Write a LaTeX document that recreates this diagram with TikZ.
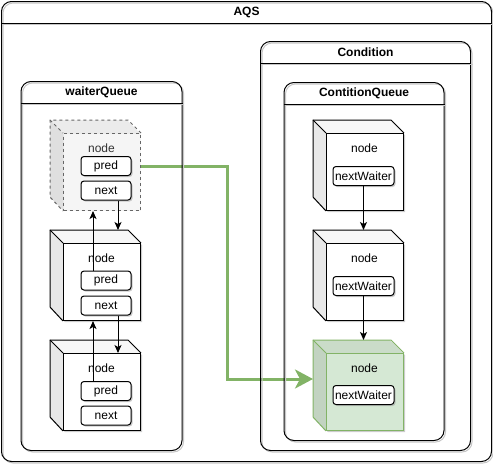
\documentclass[tikz,border=0pt]{standalone}
\usepackage{fontspec}
\setmainfont{Liberation Sans}
\usetikzlibrary{arrows.meta,shadows,backgrounds}
\definecolor{leafgreen}{HTML}{82B366}
\definecolor{nodegreen}{HTML}{D5E8D4}
\definecolor{ghostfill}{HTML}{F5F5F5}
\definecolor{ghostline}{HTML}{666666}
\definecolor{ghosttext}{HTML}{333333}
\tikzset{
  lane/.style={draw, rounded corners=10pt, inner sep=0,
    preaction={draw=black!22, fill=none, transform canvas={shift={(1.5pt,-1.5pt)}}}},
  lanerule/.style={preaction={draw=black!22, transform canvas={shift={(1.5pt,-1.5pt)}}}},
  lanetitle/.style={font=\fontsize{12}{14}\selectfont\bfseries, inner sep=0},
  field/.style={draw, fill=white, rounded corners=3pt, minimum width=50pt,
    minimum height=19pt, inner sep=0,
    drop shadow={shadow xshift=1.5pt, shadow yshift=-1.5pt, fill=black!40, opacity=.5}},
  castshadow/.style={drop shadow={shadow xshift=2pt, shadow yshift=-2pt, fill=black!40, opacity=.5}},
  solidcube/.style={draw=black},
  ghostcube/.style={draw=ghostline, dashed},
  greencube/.style={draw=leafgreen},
  link/.style={-{Stealth[length=8pt,width=7pt,inset=2pt]}},
  jump/.style={-{Stealth[length=18pt,width=19pt,inset=5pt]}, draw=leafgreen, line width=3pt},
}
% [shadow]{name}{x}{y}{front}{top}{left}{line}
\newcommand\cube[8][]{%
  \coordinate (#2-back) at (#3,#4);
  \fill[#6, #1] (#2-back) -- ++(77,0) -- ++(13,13) -- ++(0,77) -- ++(-77,0) -- ++(-13,-13) -- cycle;
  \fill[#7] (#2-back) -- ++(13,13) -- ++(0,77) -- ++(-13,-13) -- cycle;
  \node[#8, fill=#5, minimum width=77pt, minimum height=77pt, inner sep=0, anchor=north west]
    (#2) at ([shift={(13,13)}]#2-back) {};
  \draw[#8] (#2.north east) -- ++(-13,-13) -- (#2-back) -- ++(0,77) -- (#2.south west);
  \draw[#8] (#2-back) -- (#2.north west);
}
\begin{document}
\begin{tikzpicture}[x=1pt, y=-1pt, line width=1pt, font=\fontsize{12}{14}\selectfont]
\useasboundingbox (0,0) rectangle (493,464);

% containers
\node[lane, minimum width=490pt, minimum height=460pt, anchor=north west] (aqs) at (1,1) {};
\node[lane, minimum width=210pt, minimum height=409pt, anchor=north west] (cond) at (260,41) {};
\node[lane, minimum width=161pt, minimum height=369pt, anchor=north west] (wq) at (20.5,81) {};
\node[lane, minimum width=160pt, minimum height=358pt, anchor=north west] (cq) at (283.5,82) {};
\foreach \lane/\title in {aqs/AQS, cond/Condition, wq/waiterQueue, cq/ContitionQueue} {
  \node[lanetitle] (\lane-title) at ([yshift=-11pt]\lane.north) {\title};
  \draw[lanerule] ([yshift=-22pt]\lane.north west) -- ([yshift=-22pt]\lane.north east);
}

% waiterQueue
\cube{wq1}{50}{120}{ghostfill}{ghostfill!96!black}{ghostfill!91!black}{ghostcube}
\cube[castshadow]{wq2}{50}{230}{white}{black!3}{black!9}{solidcube}
\cube[castshadow]{wq3}{50}{340}{white}{black!3}{black!9}{solidcube}
\node[text=ghosttext] (wq1-name) at (101.5,148) {node};
\node (wq2-name) at (101.5,258) {node};
\node (wq3-name) at (101.5,368) {node};
\node[field] (pred1) at (106,166) {pred};
\node[field] (next1) at (106,190.5) {next};
\node[field] (pred2) at (106,280.5) {pred};
\node[field] (next2) at (106,305.5) {next};
\node[field] (pred3) at (106,391) {pred};
\node[field] (next3) at (106,415.5) {next};
\draw[link] ([xshift=12pt]next1.south) -- ([xshift=12pt]next1.south |- wq2-back);
\draw[link] ([xshift=-13pt]pred2.north) -- ([xshift=-13pt]pred2.north |- wq1.south);
\draw[link] ([xshift=12pt]next2.south) -- ([xshift=12pt]next2.south |- wq3.north);
\draw[link] ([xshift=-13pt]pred3.north) -- ([xshift=-13pt]pred3.north |- wq2.south);

% ContitionQueue
\cube[castshadow]{cq1}{313}{120}{white}{black!3}{black!9}{solidcube}
\cube[castshadow]{cq2}{313}{230}{white}{black!3}{black!9}{solidcube}
\cube[castshadow]{cq3}{313}{340}{nodegreen}{nodegreen!95!black}{nodegreen!91!black}{greencube}
\node (cq1-name) at (364.5,148) {node};
\node (cq2-name) at (364.5,258) {node};
\node (cq3-name) at (364.5,368) {node};
\node[field, minimum width=61pt] (wait1) at (363.5,176) {nextWaiter};
\node[field, minimum width=61pt] (wait2) at (363.5,286) {nextWaiter};
\node[field, minimum width=61pt] (wait3) at (363.5,395) {nextWaiter};
\draw[link] (wait1.south) -- (wait1.south |- cq2-back);
\draw[link] (wait2.south) -- (wait2.south |- cq3-back);

% transfer
\coordinate (bend) at (227,379);
\begin{scope}[on background layer]
\draw[jump] (wq1.east |- pred1.east) -| (bend) -- (bend -| cq3-back);
\end{scope}
\end{tikzpicture}
\end{document}
